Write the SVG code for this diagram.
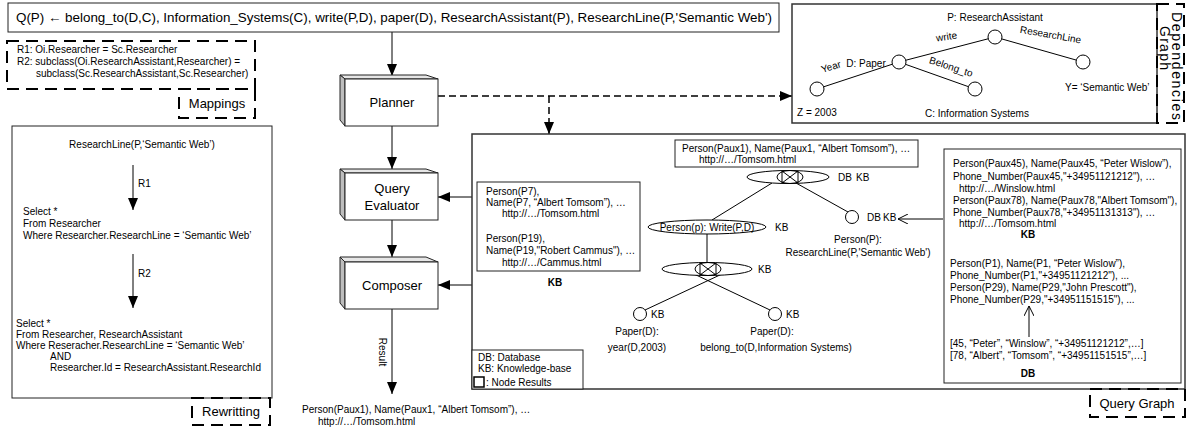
<svg xmlns="http://www.w3.org/2000/svg" width="1188" height="427" viewBox="0 0 1188 427">
  <defs>
    <style>
      text { font-family: "Liberation Sans", Arial, sans-serif; fill: #000; }
      .t13 { font-size: 13px; }
      .t10 { font-size: 10px; }
      .b { font-weight: bold; }
      .mid { text-anchor: middle; }
      .box { fill: #fff; stroke: #222; stroke-width: 1; }
      .frame { fill: none; stroke: #333; stroke-width: 1.5; }
      .tab { fill: none; stroke: #000; stroke-width: 2; stroke-dasharray: 12 7; }
      .edge { fill: none; stroke: #000; stroke-width: 1; }
      .dash { fill: none; stroke: #000; stroke-width: 1.5; stroke-dasharray: 7 4; }
      .side { fill: #bdbdbd; stroke: #222; stroke-width: 1; }
      .top { fill: #e6e6e6; stroke: #222; stroke-width: 1; }
      .node { fill: #fff; stroke: #000; stroke-width: 1; }
    </style>
    <marker id="arrow" viewBox="0 0 12 10" refX="12" refY="5" markerWidth="12" markerHeight="10" markerUnits="userSpaceOnUse" orient="auto">
      <path d="M0,0 L12,5 L0,10 z" fill="#000"/>
    </marker>
    <marker id="open" viewBox="0 0 10 10" refX="10" refY="5" markerWidth="10" markerHeight="10" markerUnits="userSpaceOnUse" orient="auto">
      <path d="M0,0 L10,5 L0,10" fill="none" stroke="#000" stroke-width="1"/>
    </marker>
    <g id="join">
      <ellipse cx="0" cy="0" rx="13" ry="6.5" fill="none" stroke="#000" stroke-width="1"/>
      <line x1="-8" y1="-6" x2="-8" y2="6" stroke="#000" stroke-width="1"/>
      <line x1="8" y1="-6" x2="8" y2="6" stroke="#000" stroke-width="1"/>
      <line x1="-8" y1="-6" x2="8" y2="6" stroke="#000" stroke-width="1"/>
      <line x1="-8" y1="6" x2="8" y2="-6" stroke="#000" stroke-width="1"/>
    </g>
  </defs>

  <rect width="1188" height="427" fill="#fff"/>

  <!-- connectors -->
  <g id="connectors">
    <line class="edge" x1="392" y1="32" x2="392" y2="76" marker-end="url(#arrow)"/>
    <line class="edge" x1="392" y1="126" x2="392" y2="169" marker-end="url(#arrow)"/>
    <line class="edge" x1="392" y1="220" x2="392" y2="257" marker-end="url(#arrow)"/>
    <line class="edge" x1="392" y1="309" x2="392" y2="394" marker-end="url(#arrow)"/>
    <line class="edge" x1="472" y1="197" x2="438" y2="197" marker-end="url(#arrow)"/>
    <line class="edge" x1="472" y1="285" x2="438" y2="285" marker-end="url(#arrow)"/>
    <line class="dash" x1="438" y1="96" x2="792" y2="96" marker-end="url(#arrow)"/>
    <line class="dash" x1="549" y1="96" x2="549" y2="134" marker-end="url(#arrow)"/>
  </g>

  <!-- query -->
  <g id="query">
    <rect class="box" x="8" y="3" width="771" height="29"/>
    <text x="16" y="22" font-size="13.4">Q(P) ← belong_to(D,C), Information_Systems(C), write(P,D), paper(D), ResearchAssistant(P), ResearchLine(P,'Semantic Web')</text>
  </g>

  <!-- mappings -->
  <g id="mappings">
    <rect class="tab" x="7" y="41" width="248" height="48"/>
    <text class="t10" x="17" y="53">R1: Oi.Researcher = Sc.Researcher</text>
    <text class="t10" x="17" y="65">R2: subclass(Oi.ResearchAssistant,Researcher) =</text>
    <text class="t10" x="36" y="77">subclass(Sc.ResearchAssistant,Sc.Researcher)</text>
    <rect class="tab" x="179" y="89" width="76" height="29"/>
    <text class="t13 mid" x="217" y="108">Mappings</text>
  </g>

  <!-- rewriting -->
  <g id="rewriting">
    <rect class="box" x="12" y="126" width="260" height="272"/>
    <text class="t10 mid" x="142" y="148">ResearchLine(P,‘Semantic Web’)</text>
    <line class="edge" x1="133" y1="165" x2="133" y2="210" marker-end="url(#arrow)"/>
    <text class="t10" x="138" y="187">R1</text>
    <text class="t10" x="23" y="215">Select *</text>
    <text class="t10" x="23" y="227">From Researcher</text>
    <text class="t10" x="23" y="239">Where Researcher.ResearchLine = ‘Semantic Web’</text>
    <line class="edge" x1="133" y1="254" x2="133" y2="308" marker-end="url(#arrow)"/>
    <text class="t10" x="138" y="277">R2</text>
    <text class="t10" x="16" y="327">Select *</text>
    <text class="t10" x="16" y="338">From Researcher, ResearchAssistant</text>
    <text class="t10" x="16" y="349">Where Reseracher.ResearchLine = ‘Semantic Web’</text>
    <text class="t10" x="50" y="360">AND</text>
    <text class="t10" x="50" y="371">Researcher.Id = ResearchAssistant.ResearchId</text>
    <rect class="tab" x="192" y="398" width="78" height="27"/>
    <text class="t13 mid" x="231" y="416">Rewritting</text>
  </g>

  <!-- planner -->
  <g id="planner">
    <polygon class="top" points="340,75 426,75 438,79 345,79"/>
    <polygon class="side" points="340,75 345,79 345,126 340,120"/>
    <rect class="box" x="345" y="79" width="93" height="47"/>
    <text class="t13 mid" x="392" y="107">Planner</text>
  </g>

  <!-- query evaluator -->
  <g id="evaluator">
    <polygon class="top" points="340,169 426,169 438,173 345,173"/>
    <polygon class="side" points="340,169 345,173 345,220 340,214"/>
    <rect class="box" x="345" y="173" width="93" height="47"/>
    <text class="t13 mid" x="392" y="193">Query</text>
    <text class="t13 mid" x="392" y="210">Evaluator</text>
  </g>

  <!-- composer -->
  <g id="composer">
    <polygon class="top" points="340,257 426,257 438,262 345,262"/>
    <polygon class="side" points="340,257 345,262 345,309 340,303"/>
    <rect class="box" x="345" y="262" width="93" height="47"/>
    <text class="t13 mid" x="392" y="290">Composer</text>
  </g>

  <!-- result -->
  <g id="result">
    <text class="t10 mid" transform="translate(379,352) rotate(90)">Result</text>
    <text class="t10" x="302" y="413">Person(Paux1), Name(Paux1, “Albert Tomsom”), …</text>
    <text class="t10" x="318" y="425">http://…/Tomsom.html</text>
  </g>

  <!-- dependencies graph -->
  <g id="dependencies">
    <rect class="frame" x="792" y="4" width="365" height="119"/>
    <rect class="tab" x="1157" y="4" width="27" height="119"/>
    <text class="mid" font-size="14" transform="translate(1172,66) rotate(90)" textLength="108" lengthAdjust="spacing">Dependencies</text>
    <text class="mid" font-size="14" transform="translate(1160,48) rotate(90)" textLength="44" lengthAdjust="spacing">Graph</text>
    <line class="edge" x1="995" y1="37" x2="899" y2="62"/>
    <line class="edge" x1="995" y1="37" x2="1083" y2="62"/>
    <line class="edge" x1="899" y1="62" x2="817" y2="89"/>
    <line class="edge" x1="899" y1="62" x2="975" y2="89"/>
    <circle class="node" cx="995" cy="37" r="7"/>
    <circle class="node" cx="899" cy="62" r="7"/>
    <circle class="node" cx="1083" cy="62" r="7"/>
    <circle class="node" cx="817" cy="89" r="7"/>
    <circle class="node" cx="975" cy="89" r="7"/>
    <text class="t10 mid" x="995" y="21">P: ResearchAssistant</text>
    <text class="t10 mid" transform="translate(947,40) rotate(-8)">write</text>
    <text class="t10 mid" transform="translate(1050,38) rotate(10)">ResearchLine</text>
    <text class="t10 mid" x="866" y="67">D: Paper</text>
    <text class="t10 mid" transform="translate(832,70) rotate(-18)">Year</text>
    <text class="t10 mid" transform="translate(950,70) rotate(18)">Belong_to</text>
    <text class="t10" x="1065" y="91">Y= ‘Semantic Web’</text>
    <text class="t10" x="797" y="116">Z = 2003</text>
    <text class="t10" x="925" y="117">C: Information Systems</text>
  </g>

  <!-- query graph -->
  <g id="query-graph">
    <rect class="frame" x="472" y="134" width="713" height="255"/>
    <rect class="tab" x="1090" y="389" width="95" height="28"/>
    <text class="t13 mid" x="1137" y="408">Query Graph</text>

    <!-- tree edges -->
    <line class="edge" x1="772" y1="183" x2="712" y2="220"/>
    <line class="edge" x1="796" y1="183" x2="848" y2="212"/>
    <line class="edge" x1="707" y1="234" x2="707" y2="263"/>
    <line class="edge" x1="722" y1="274" x2="645" y2="310"/>
    <line class="edge" x1="694" y1="274" x2="770" y2="310"/>

    <!-- root join -->
    <ellipse class="node" cx="788" cy="177" rx="41" ry="6.5"/>
    <use href="#join" x="790" y="177"/>
    <text class="t10" x="838" y="181">DB</text>
    <text class="t10" x="856" y="181">KB</text>

    <!-- write node -->
    <ellipse class="node" cx="707" cy="227" rx="59" ry="7"/>
    <text class="t10 mid" x="707" y="231">Person(p): Write(P,D)</text>
    <text class="t10" x="775" y="231">KB</text>

    <!-- paper join -->
    <ellipse class="node" cx="707" cy="269" rx="45" ry="6.5"/>
    <use href="#join" x="708" y="269"/>
    <text class="t10" x="758" y="273">KB</text>

    <!-- leaves -->
    <circle class="node" cx="640" cy="314" r="6.5"/>
    <text class="t10" x="651" y="318">KB</text>
    <text class="t10 mid" x="637" y="335">Paper(D):</text>
    <text class="t10 mid" x="637" y="351">year(D,2003)</text>

    <circle class="node" cx="775" cy="314" r="6.5"/>
    <text class="t10" x="786" y="318">KB</text>
    <text class="t10 mid" x="772" y="335">Paper(D):</text>
    <text class="t10 mid" x="776" y="351">belong_to(D,Information Systems)</text>

    <circle class="node" cx="852" cy="217" r="6.5"/>
    <text class="t10" x="867" y="221">DB</text>
    <text class="t10" x="883" y="221">KB</text>
    <text class="t10 mid" x="858" y="243">Person(P):</text>
    <text class="t10 mid" x="858" y="256">ResearchLine(P,'Semantic Web')</text>
    <line class="edge" x1="943" y1="219" x2="898" y2="219" marker-end="url(#open)"/>

    <!-- root result -->
    <rect class="box" x="675" y="140" width="243" height="27"/>
    <text class="t10" x="682" y="152">Person(Paux1), Name(Paux1, “Albert Tomsom”), …</text>
    <text class="t10" x="699" y="163">http://…/Tomsom.html</text>

    <!-- KB results for write node -->
    <rect class="box" x="477" y="182" width="163" height="89"/>
    <text class="t10" x="486" y="195">Person(P7),</text>
    <text class="t10" x="486" y="206">Name(P7, “Albert Tomsom”), …</text>
    <text class="t10" x="502" y="217">http://…/Tomsom.html</text>
    <text class="t10" x="486" y="242">Person(P19),</text>
    <text class="t10" x="486" y="254">Name(P19,"Robert Cammus"), …</text>
    <text class="t10" x="502" y="266">http://…/Cammus.html</text>
    <text class="t10 b mid" x="555" y="286">KB</text>

    <!-- KB / DB results for Person(P) -->
    <rect class="box" x="944" y="149" width="237" height="234"/>
    <text class="t10" x="953" y="167">Person(Paux45), Name(Paux45, “Peter Wislow”),</text>
    <text class="t10" x="953" y="180">Phone_Number(Paux45,"+34951121212"), …</text>
    <text class="t10" x="959" y="192">http://…/Winslow.html</text>
    <text class="t10" x="953" y="204">Person(Paux78), Name(Paux78,"Albert Tomsom"),</text>
    <text class="t10" x="953" y="216">Phone_Number(Paux78,"+34951131313"), …</text>
    <text class="t10" x="959" y="227">http://…/Tomsom.html</text>
    <text class="t10 b mid" x="1028" y="238">KB</text>
    <text class="t10" x="950" y="267">Person(P1), Name(P1, “Peter Wislow”),</text>
    <text class="t10" x="950" y="279">Phone_Number(P1,"+34951121212"), ...</text>
    <text class="t10" x="950" y="291">Person(P29), Name(P29,"John Prescott"),</text>
    <text class="t10" x="950" y="303">Phone_Number(P29,"+34951151515"), ...</text>
    <line class="edge" x1="1029" y1="337" x2="1029" y2="306" marker-end="url(#open)"/>
    <text class="t10" x="950" y="347">[45, “Peter”, “Winslow”, “+34951121212”,…]</text>
    <text class="t10" x="950" y="359">[78, “Albert”, “Tomsom”, “+34951151515”,…]</text>
    <text class="t10 b mid" x="1028" y="377">DB</text>

    <!-- legend -->
    <rect class="box" x="472" y="350" width="111" height="39"/>
    <text class="t10" x="478" y="361">DB: Database</text>
    <text class="t10" x="478" y="372">KB: Knowledge-base</text>
    <rect x="474" y="377" width="10" height="10" fill="#fff" stroke="#000" stroke-width="1.5"/>
    <text class="t10" x="486" y="386">: Node Results</text>
  </g>
</svg>
